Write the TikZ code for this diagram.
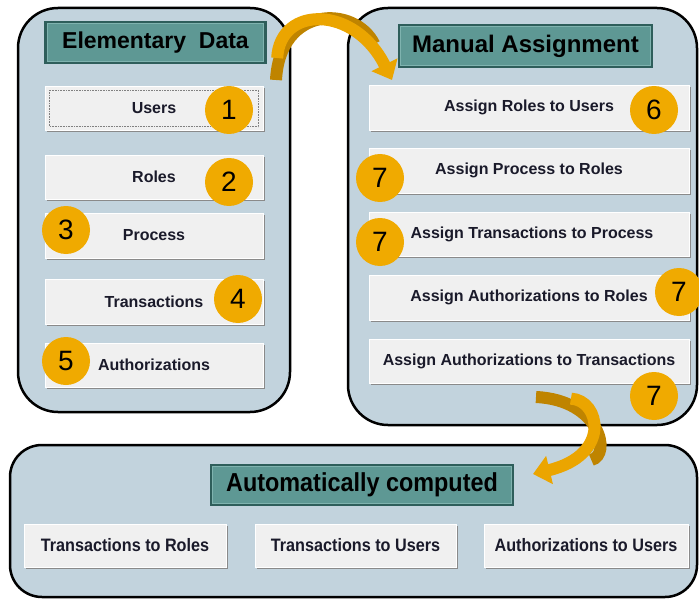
\documentclass[tikz,border=0pt]{standalone}
\usepackage{fontspec}
\setmainfont{Liberation Sans}
\usetikzlibrary{arrows.meta,shadows}
\definecolor{panelfill}{HTML}{C2D3DD}
\definecolor{tealfill}{HTML}{5E9894}
\definecolor{tealdark}{HTML}{2E5E5B}
\definecolor{tealedge}{HTML}{7FB3AF}
\definecolor{btnfill}{HTML}{F0F0F0}
\definecolor{btnshadow}{HTML}{8A8A8A}
\definecolor{badge}{HTML}{F0AA00}
\definecolor{arrowlight}{HTML}{EBA500}
\definecolor{arrowdark}{HTML}{BF8400}
\definecolor{txt}{HTML}{1A1A2A}
\tikzset{
  panel/.style={draw=black, line width=2.5pt, fill=panelfill, rounded corners=40pt, inner sep=0pt},
  titlebox/.style={draw=tealdark, line width=2.5pt, fill=tealfill, inner sep=0pt,
     font=\fontsize{23}{26}\selectfont\bfseries, text=black},
  btnbox/.style={fill=btnfill, draw=white, line width=0.6pt, inner sep=0pt,
     drop shadow={shadow xshift=1.8pt, shadow yshift=-1.8pt, fill=btnshadow, opacity=1},
     font=\fontsize{16}{19}\selectfont\bfseries, text=txt},
  narrowbtn/.style={btnbox, font=\fontsize{18}{21}\selectfont\bfseries\addfontfeature{FakeStretch=0.9}},
  badgec/.style={circle, fill=badge, minimum size=48pt, inner sep=0pt,
     font=\fontsize{28}{32}\selectfont, text=black},
  flow/.style={line width=12pt, arrowlight, -{Triangle[width=28pt,length=17pt]}},
}
\begin{document}
\begin{tikzpicture}[x=1pt,y=-1pt]
\useasboundingbox (0,0) rectangle (699,599);
% panels
\node[panel, minimum width=272pt, minimum height=404pt] (left) at (154,210) {};
\node[panel, minimum width=349pt, minimum height=417pt] (right) at (522.5,216.5) {};
\node[panel, rounded corners=32pt, minimum width=687pt, minimum height=152pt] (bottom) at (353.5,521) {};
% titles
\node[titlebox, minimum width=220pt, minimum height=41pt] (t1) at (155.5,42.5) {Elementary\ \ Data};
\node[titlebox, minimum width=253pt, minimum height=42pt] (t2) at (525.5,46) {\fontsize{24}{27}\selectfont\bfseries Manual Assignment};
\node[titlebox, minimum width=302pt, minimum height=40pt] (t3) at (362,485) {\fontsize{26}{29}\selectfont\bfseries\addfontfeature{FakeStretch=0.9}Automatically computed};
\foreach \n in {t1,t2,t3}{
  \draw[tealedge, line width=0.8pt] ([xshift=3pt,yshift=-3pt]\n.north west) rectangle ([xshift=-3pt,yshift=3pt]\n.south east);
}
% left buttons
\node[btnbox, minimum width=218pt, minimum height=44pt] (users) at (154,108.5) {Users};
\draw[densely dotted, gray, line width=0.6pt] ([xshift=5pt,yshift=-4pt]users.north west) rectangle ([xshift=-5pt,yshift=4pt]users.south east);
\node[btnbox, minimum width=218pt, minimum height=44pt] (roles) at (154,177) {Roles};
\node[btnbox, minimum width=218pt, minimum height=45pt] (process) at (154,235.5) {Process};
\node[btnbox, minimum width=218pt, minimum height=45pt] (trans) at (154,301.5) {Transactions};
\node[btnbox, minimum width=218pt, minimum height=44pt] (auth) at (154,365) {Authorizations};
% right buttons
\node[btnbox, minimum width=320pt, minimum height=45pt] (a1) at (529,107.5) {Assign Roles to Users};
\node[btnbox, minimum width=320pt, minimum height=45pt] (a2) at (529,170.5) {Assign Process to Roles};
\node[btnbox, minimum width=320pt, minimum height=44pt] (a3) at (529,234) {\hspace*{6pt}Assign Transactions to Process};
\node[btnbox, minimum width=320pt, minimum height=45pt] (a4) at (529,297.5) {Assign Authorizations to Roles};
\node[btnbox, minimum width=320pt, minimum height=44pt] (a5) at (529,361) {Assign Authorizations to Transactions};
% bottom buttons
\node[narrowbtn, minimum width=202pt, minimum height=43pt] (b1) at (125,545.5) {Transactions to Roles};
\node[narrowbtn, minimum width=201pt, minimum height=43pt] (b2) at (355.5,545.5) {Transactions to Users};
\node[narrowbtn, minimum width=204pt, minimum height=43pt] (b3) at (586,545.5) {Authorizations to Users};
% badges
\node[badgec] (n1) at (229,110) {1};
\node[badgec] (n2) at (229,182) {2};
\node[badgec] (n3) at (66,230) {3};
\node[badgec] (n4) at (238,299) {4};
\node[badgec] (n5) at (66,361) {5};
\node[badgec] (n6) at (654,110) {6};
\node[badgec] (n7a) at (380,178) {7};
\node[badgec] (n7b) at (380,242) {7};
\node[badgec] (n7c) at (679,292) {7};
\node[badgec] (n7d) at (654,396) {7};
% flow arrows
\coordinate (s1) at (276,80);
\coordinate (e1) at (392,80);
\draw[flow, arrowdark, shorten >=40pt, -] (s1) .. controls (280,5) and (355,5) .. (e1);
\draw[flow, shorten <=22pt] (s1) .. controls (280,5) and (355,5) .. (e1);
\coordinate (s2) at (536,397);
\coordinate (e2) at (533,474);
\draw[flow, arrowdark, shorten >=60pt, -] (s2) .. controls (600,400) and (612,455) .. (e2);
\draw[flow, shorten <=35pt] (s2) .. controls (600,400) and (612,455) .. (e2);
\end{tikzpicture}
\end{document}
